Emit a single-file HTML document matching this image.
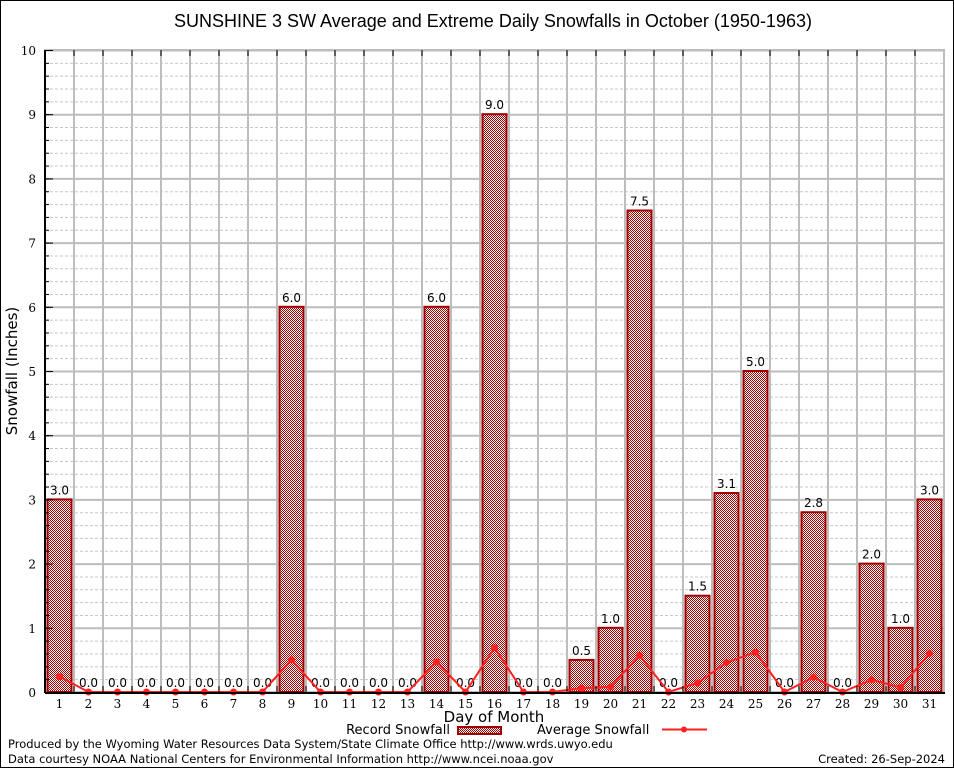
<!DOCTYPE html>
<html><head><meta charset="utf-8"><style>
html,body{margin:0;padding:0;background:#fff}
svg{display:block}
text{font-family:"DejaVu Sans","Liberation Sans",sans-serif}
.serif{font-family:"DejaVu Serif","Liberation Serif",serif}
</style></head><body>
<svg id="chart" width="954" height="768" xmlns="http://www.w3.org/2000/svg">
<defs>
<pattern id="chk" width="2" height="2" patternUnits="userSpaceOnUse">
<rect width="2" height="2" fill="#fff"/><rect width="1" height="1" fill="#a00000"/><rect x="1" y="1" width="1" height="1" fill="#a00000"/>
</pattern>
</defs>
<rect x="0.5" y="0.5" width="953" height="767" fill="#fff" stroke="#000"/>
<text x="493" y="27" font-size="18" text-anchor="middle" style="font-family:'Liberation Sans',sans-serif">SUNSHINE 3 SW Average and Extreme Daily Snowfalls in October (1950-1963)</text>
<g id="grid"></g>
<g id="bars"></g>
<g id="avg"></g>
<g id="axes"></g>
<text x="17" y="371" font-size="15" text-anchor="middle" transform="rotate(-90 17 371)">Snowfall (Inches)</text>
<text x="494" y="722" font-size="15" text-anchor="middle">Day of Month</text>
<g>
<text x="450" y="734" font-size="13" text-anchor="end">Record Snowfall</text>
<rect x="458" y="727" width="43" height="7" fill="url(#chk)" stroke="#a00000" stroke-width="2"/>
<text x="537" y="734" font-size="13">Average Snowfall</text>
<line x1="662" y1="729.5" x2="707" y2="729.5" stroke="#ff2020" stroke-width="2"/>
<circle cx="684" cy="729.5" r="3" fill="#ff2020"/>
</g>
<text x="8" y="748" font-size="11.5">Produced by the Wyoming Water Resources Data System/State Climate Office http://www.wrds.uwyo.edu</text>
<text x="8" y="763" font-size="11.5">Data courtesy NOAA National Centers for Environmental Information http://www.ncei.noaa.gov</text>
<text x="945" y="763" font-size="11.5" text-anchor="end">Created: 26-Sep-2024</text>
</svg>
<script>
const days = [1,2,3,4,5,6,7,8,9,10,11,12,13,14,15,16,17,18,19,20,21,22,23,24,25,26,27,28,29,30,31];
const recordSnow = [3.0,0,0,0,0,0,0,0,6.0,0,0,0,0,6.0,0,9.0,0,0,0.5,1.0,7.5,0,1.5,3.1,5.0,0,2.8,0,2.0,1.0,3.0];
const avgSnow = [0.24,0,0,0,0,0,0,0,0.5,0,0,0,0,0.47,0,0.69,0,0,0.06,0.08,0.57,0,0.14,0.46,0.62,0,0.23,0,0.19,0.07,0.6];
const yTicks = [0,1,2,3,4,5,6,7,8,9,10];

const L=45,R=944,T=50,B=692,YMAX=10;
const step=(R-L)/days.length;
const x=d=>L+step*(d-0.5);
const y=v=>B-(B-T)*v/YMAX;
const NS="http://www.w3.org/2000/svg";
function mk(tag,attrs,parent){const e=document.createElementNS(NS,tag);for(const k in attrs)e.setAttribute(k,attrs[k]);parent.appendChild(e);return e;}
const grid=document.getElementById('grid'),bars=document.getElementById('bars'),avg=document.getElementById('avg'),axes=document.getElementById('axes');

for(let v=0.2;v<YMAX;v+=0.2){
  if(Math.abs(v-Math.round(v))<0.01) continue;
  const l=mk('line',{x1:L,x2:R,y1:y(v)+0.5,y2:y(v)+0.5,stroke:'#c8c8c8','stroke-dasharray':'3,2'},grid);
  
  
}
yTicks.forEach(v=>{
  const l=mk('line',{x1:L,x2:R,y1:y(v)+0.5,y2:y(v)+0.5,stroke:'#bdbdbd','stroke-width':2},grid);
  
  
  const t=mk('text',{x:L-9,y:y(v)+5,'font-size':12,'text-anchor':'end',class:'serif'},axes);
  t.textContent=v;
  
  
  const tk=mk('line',{x1:L,x2:L+8,y1:y(v)+0.5,y2:y(v)+0.5,stroke:'#000'},axes);
  
  
});
for(let v=0.2;v<YMAX;v+=0.2){
  const tk=mk('line',{x1:L,x2:L+4,y1:y(v)+0.5,y2:y(v)+0.5,stroke:'#000'},axes);
  
  
}
for(let i=1;i<days.length;i++){
  const gx=L+step*i;
  const l=mk('line',{x1:gx,x2:gx,y1:T,y2:B,stroke:'#bdbdbd','stroke-width':2},grid);
  
  
  const t1=mk('line',{x1:gx,x2:gx,y1:T,y2:T+6,stroke:'#000'},axes);
  
  
  const t2=mk('line',{x1:gx,x2:gx,y1:B-6,y2:B,stroke:'#000'},axes);
  
  
}
const fr=mk('rect',{x:L,y:T,width:R-L,height:B-T,fill:'none',stroke:'#bdbdbd','stroke-width':2},grid);



days.forEach((d,i)=>{
  const v=recordSnow[i];
  if(v>0){
    const r=mk('rect',{x:x(d)-12,y:y(v),width:24,height:B-y(v),fill:'url(#chk)',stroke:'#a00000','stroke-width':2},bars);
    
    
  }
  const t=mk('text',{x:x(d),y:y(v)-5,'font-size':12,'text-anchor':'middle'},bars);
  t.textContent=v.toFixed(1);
  
  
  const xl=mk('text',{x:x(d),y:B+16,'font-size':12,'text-anchor':'middle',class:'serif'},axes);
  xl.textContent=d;
  
  
});

const pl=mk('polyline',{points:days.map((d,i)=>x(d)+','+y(avgSnow[i])).join(' '),fill:'none',stroke:'#ff2020','stroke-width':2},avg);


days.forEach((d,i)=>{
  const c=mk('circle',{cx:x(d),cy:y(avgSnow[i]),r:3.5,fill:'#ff2020'},avg);
  
  
});
const ax=mk('line',{x1:L,x2:L,y1:T,y2:B+1,stroke:'#000','stroke-width':2},axes);


const bx=mk('line',{x1:L,x2:R+1,y1:B+1,y2:B+1,stroke:'#000','stroke-width':2},axes);


</script>
</body></html>
